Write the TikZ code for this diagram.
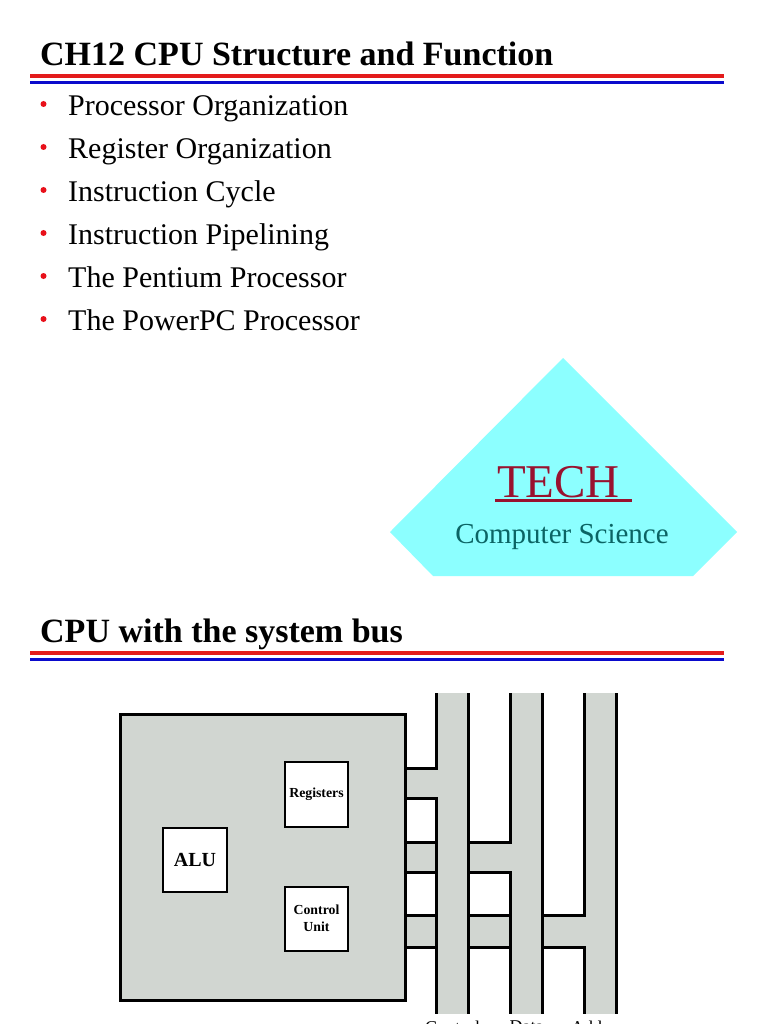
\documentclass[tikz,border=0pt]{standalone}
\usepackage{fontspec}
\setmainfont{Liberation Serif}
\usetikzlibrary{calc,positioning}
\definecolor{RuleRed}{HTML}{E31B1B}
\definecolor{RuleBlue}{HTML}{0A0ACC}
\definecolor{BulletRed}{HTML}{E8101A}
\definecolor{LogoCyan}{HTML}{8CFFFF}
\definecolor{TechRed}{HTML}{99122F}
\definecolor{TechTeal}{HTML}{0B6464}
\definecolor{CpuGray}{HTML}{D1D6D1}

\begin{document}
\begin{tikzpicture}[
  x=1pt,
  y=-1pt,
  heading/.style={anchor=base west,inner sep=0,font=\bfseries\fontsize{34}{40}\selectfont},
  rule red/.style={draw=RuleRed,line width=4pt},
  rule blue/.style={draw=RuleBlue,line width=3pt},
  item/.style={anchor=base west,inner sep=0,font=\fontsize{30}{36}\selectfont},
  cpu/.style={rectangle,draw=black,fill=CpuGray,line width=3pt,minimum width=285pt,minimum height=286pt,inner sep=0,outer sep=0},
  unit/.style={rectangle,draw=black,fill=white,line width=2pt,minimum width=63pt,minimum height=64pt,inner sep=0,outer sep=0,align=center,font=\bfseries\fontsize{13.8}{17}\selectfont},
  bus/.style={rectangle,fill=CpuGray,minimum width=32pt,minimum height=321pt,inner sep=0,outer sep=0},
  wire/.style={draw=black,line width=3pt,line join=miter},
  tech rule/.style={draw=TechRed,line width=2.6pt},
  bus label/.style={anchor=north,inner sep=0,font=\fontsize{18}{22}\selectfont}
]
  \useasboundingbox (0,0) rectangle (768,1024);
  \clip (0,0) rectangle (768,1024);
  \fill[white] (0,0) rectangle (768,1024);

  \node[heading] (title) at (40,66) {CH12 CPU Structure and Function};
  \draw[rule red] (30,76) -- (724,76);
  \draw[rule blue] (30,83) -- (724,83);

  \foreach \t [count=\i from 0] in {Processor Organization,Register Organization,Instruction Cycle,Instruction Pipelining,The Pentium Processor,The PowerPC Processor} {
    \fill[BulletRed] (43.5,104+43*\i) circle (3);
    \node[item] (item\i) at (68,115.5+43*\i) {\t};
  }

  \fill[LogoCyan] (563,358) -- (737,532) -- (693,576) -- (433,576) -- (390,532) -- cycle;
  \node[anchor=base west,inner sep=0,text=TechRed,font=\fontsize{47}{50}\selectfont] (tech) at (497,497) {TECH};
  \draw[tech rule] ([shift={(-2,3.5)}]tech.base west) -- ([shift={(12,3.5)}]tech.base east);
  \node[anchor=base,inner sep=0,text=TechTeal,font=\fontsize{29}{34}\selectfont] (dept) at (562,543) {Computer Science};

  \node[heading] (bushead) at (40,642) {CPU with the system bus};
  \draw[rule red] (30,653) -- (724,653);
  \draw[rule blue] (30,659) -- (724,659);

  \node[bus] (ctl) at (452.5,853.5) {};
  \node[bus] (dat) at (526.5,853.5) {};
  \node[bus] (adr) at (600.5,853.5) {};
  \fill[CpuGray] (405,768) rectangle (ctl.west |- 0,798);
  \fill[CpuGray] (405,842) rectangle (dat.west |- 0,872);
  \fill[CpuGray] (405,915) rectangle (adr.west |- 0,947);

  \node[cpu] (cpu) at (262.5,857) {};
  \node[unit,font=\bfseries\fontsize{20}{24}\selectfont,minimum width=64pt] (alu) at (195,860) {ALU};
  \node[unit,minimum height=65pt] (reg) at (316.5,794.5) {Registers};
  \node[unit] (cu) at (316.5,918.5) {Control\\Unit};

  % control lines
  \draw[wire] (ctl.north west) -- (ctl.west |- 0,768) -- (cpu.east |- 0,768);
  \draw[wire] (cpu.east |- 0,798) -- (ctl.west |- 0,798) -- (ctl.south west);
  \draw[wire] (ctl.north east) -- (ctl.south east);
  % data lines
  \draw[wire] (cpu.east |- 0,842) -- (ctl.west |- 0,842);
  \draw[wire] (cpu.east |- 0,872) -- (ctl.west |- 0,872);
  \draw[wire] (dat.north west) -- (dat.west |- 0,842) -- (ctl.east |- 0,842);
  \draw[wire] (ctl.east |- 0,872) -- (dat.west |- 0,872) -- (dat.south west);
  \draw[wire] (dat.north east) -- (dat.south east);
  % address lines
  \draw[wire] (cpu.east |- 0,915) -- (ctl.west |- 0,915);
  \draw[wire] (cpu.east |- 0,947) -- (ctl.west |- 0,947);
  \draw[wire] (ctl.east |- 0,915) -- (dat.west |- 0,915);
  \draw[wire] (ctl.east |- 0,947) -- (dat.west |- 0,947);
  \draw[wire] (adr.north west) -- (adr.west |- 0,915) -- (dat.east |- 0,915);
  \draw[wire] (dat.east |- 0,947) -- (adr.west |- 0,947) -- (adr.south west);
  \draw[wire] (adr.north east) -- (adr.south east);

  \node[bus label] (ctllabel) at ([yshift=-7pt]ctl.south) {Control};
  \node[bus label] (datlabel) at ([yshift=-7pt]dat.south) {Data};
  \node[bus label] (adrlabel) at ([yshift=-7pt]adr.south) {Address};
\end{tikzpicture}
\end{document}
